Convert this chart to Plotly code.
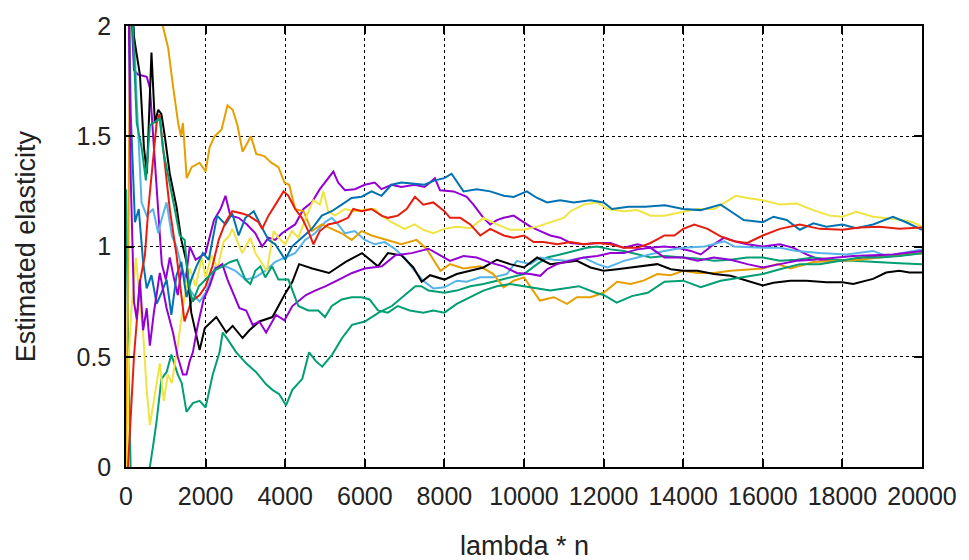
import plotly.graph_objects as go

# ---------------- data ----------------
purple_a_x = [30, 200, 300, 520, 600, 700, 800, 900, 1000, 1100, 1200, 1300, 1400, 1500, 1600, 1750, 2000, 2210, 2375, 2500, 2620, 2830, 3040, 3250, 3420, 3580, 3750, 3920, 4080, 4250, 4460, 4670, 4870, 5080, 5210, 5330, 5500, 5750, 6000, 6250, 6420, 6670, 6920, 7250, 7500, 7640, 7760, 7890, 8230, 8560, 8730, 8980, 9150, 9320, 9490, 9740, 10000, 10160, 10410, 10660, 10910, 11170, 11500, 11840, 12170, 12510, 12850, 13180, 13520, 13860, 14190, 14440, 14770, 15030, 15360, 15610, 16000, 16430, 16770, 17100, 17430, 17770, 18100, 18510, 18930, 19430, 20000]
purple_a_y = [2.5, 1.8, 1.78, 1.77, 1.72, 1.45, 1.15, 0.92, 0.85, 0.95, 0.86, 0.78, 0.9, 0.85, 1.0, 0.94, 0.97, 1.12, 1.17, 1.23, 1.14, 1.13, 1.10, 1.06, 1.0, 1.04, 1.03, 1.06, 1.08, 1.10, 1.17, 1.20, 1.26, 1.31, 1.34, 1.29, 1.255, 1.26, 1.28, 1.29, 1.26, 1.28, 1.27, 1.28, 1.27, 1.29, 1.31, 1.255, 1.25, 1.225, 1.19, 1.13, 1.10, 1.12, 1.13, 1.14, 1.11, 1.09, 1.07, 1.05, 1.04, 1.016, 1.01, 1.016, 1.016, 0.994, 1.01, 0.994, 1.0, 0.994, 0.98, 0.964, 1.01, 1.04, 1.02, 1.01, 1.0, 1.01, 0.994, 0.964, 0.94, 0.935, 0.937, 0.95, 0.957, 0.96, 0.97]

green_a_x = [0, 60, 150, 300, 450, 600, 700, 770, 890, 1020, 1140, 1300, 1400, 1520, 1680, 1850, 2000, 2180, 2350, 2430, 2550, 2770, 3020, 3270, 3520, 3680, 3850, 4020, 4180, 4430, 4600, 4770, 4930, 5180, 5430, 5680, 6000, 6350, 6680, 6930, 7270, 7420, 7600, 8000, 8310, 8650, 8980, 9320, 9650, 10000, 10330, 10580, 10910, 11250, 11580, 11840, 12170, 12510, 12850, 13180, 13530, 14000, 14400, 14770, 15190, 15610, 16000, 16430, 16850, 17270, 17770, 18270, 18930, 19430, 20000]
green_a_y = [1.26, 0.5, -0.3, -0.5, -0.3, 0.0, 0.12, 0.21, 0.40, 0.43, 0.51, 0.42, 0.38, 0.25, 0.29, 0.30, 0.27, 0.42, 0.52, 0.61, 0.58, 0.52, 0.47, 0.43, 0.375, 0.35, 0.33, 0.28, 0.35, 0.40, 0.52, 0.48, 0.455, 0.51, 0.585, 0.645, 0.66, 0.70, 0.73, 0.77, 0.82, 0.82, 0.80, 0.79, 0.80, 0.82, 0.83, 0.845, 0.86, 0.875, 0.92, 0.95, 0.964, 0.98, 0.994, 1.0, 0.987, 0.98, 0.964, 0.95, 0.957, 0.95, 0.945, 0.935, 0.94, 0.95, 0.95, 0.935, 0.94, 0.95, 0.94, 0.935, 0.927, 0.924, 0.92]

skyblue_x = [100, 150, 270, 390, 520, 680, 810, 890, 1020, 1150, 1270, 1400, 1550, 1700, 1850, 2000, 2250, 2500, 2750, 3000, 3250, 3500, 3750, 4000, 4250, 4500, 4750, 5000, 5170, 5330, 5500, 5750, 6000, 6250, 6500, 6750, 7000, 7250, 7470, 7720, 8000, 8310, 8560, 8900, 9230, 9570, 9820, 10160, 10410, 10750, 11080, 11500, 11840, 12100, 12510, 12850, 13180, 13520, 14000, 14540, 15030, 15280, 16000, 16430, 16850, 17430, 18100, 18770, 19100, 19520, 20000]
skyblue_y = [2.5, 2.2, 1.66, 1.2, 1.14, 1.17, 1.06, 1.12, 1.2, 1.05, 1.0, 0.9, 0.82, 0.78, 0.75, 0.79, 0.91, 0.91, 0.89, 0.85, 0.86, 0.89, 0.93, 0.95, 0.97, 1.03, 1.06, 1.11, 1.13, 1.10, 1.06, 1.07, 1.03, 1.01, 1.02, 0.99, 0.95, 0.89, 0.845, 0.81, 0.815, 0.845, 0.84, 0.86, 0.86, 0.875, 0.935, 0.92, 0.95, 0.94, 0.935, 0.95, 0.92, 0.905, 0.935, 0.95, 0.964, 0.98, 0.994, 1.0, 1.024, 1.0, 0.994, 0.994, 0.98, 0.97, 0.964, 0.98, 0.957, 0.97, 0.986]

orange_x = [0, 60, 120, 700, 925, 1060, 1180, 1310, 1380, 1430, 1525, 1650, 1850, 2000, 2100, 2225, 2400, 2550, 2680, 2800, 2930, 3140, 3270, 3475, 3650, 3830, 3980, 4100, 4250, 4460, 4670, 4920, 5170, 5420, 5670, 5920, 6170, 6580, 6920, 7300, 7550, 7900, 8140, 8480, 8900, 9230, 9490, 9740, 10000, 10400, 10750, 11080, 11330, 11670, 12000, 12340, 12680, 13000, 13350, 13690, 14000, 14360, 14770, 15190, 15540, 16000, 16370, 16700, 17270, 17930, 18430, 18930, 19430, 20000]
orange_y = [0.0, 1.0, 2.6, 2.3, 2.0, 1.9, 1.73, 1.56, 1.50, 1.56, 1.31, 1.36, 1.38, 1.34, 1.45, 1.50, 1.53, 1.64, 1.62, 1.55, 1.43, 1.50, 1.42, 1.41, 1.38, 1.36, 1.29, 1.28, 1.17, 1.16, 1.07, 1.10, 1.08, 1.06, 1.03, 1.07, 1.05, 1.03, 1.01, 1.03, 0.99, 0.89, 0.92, 0.90, 0.91, 0.875, 0.815, 0.845, 0.86, 0.755, 0.77, 0.74, 0.77, 0.77, 0.79, 0.84, 0.83, 0.845, 0.875, 0.87, 0.89, 0.88, 0.88, 0.89, 0.895, 0.90, 0.92, 0.90, 0.93, 0.935, 0.94, 0.95, 0.96, 0.97]

yellow_x = [30, 70, 130, 250, 350, 430, 520, 600, 700, 850, 950, 1050, 1150, 1300, 1450, 1600, 1750, 1900, 2000, 2150, 2300, 2450, 2600, 2670, 2920, 3125, 3250, 3540, 3710, 3830, 4000, 4170, 4330, 4540, 4710, 4870, 4960, 5080, 5250, 5500, 5750, 6080, 6250, 6420, 6670, 7000, 7250, 7470, 7720, 8000, 8310, 8650, 8980, 9320, 9650, 10000, 10330, 10660, 11000, 11170, 11500, 11840, 12100, 12510, 12850, 13180, 13530, 14000, 14360, 14780, 15320, 15610, 16000, 16430, 16850, 17270, 17680, 18000, 18350, 18770, 19100, 19520, 19770, 20000]
yellow_y = [0.0, 0.5, 0.7, 0.95, 0.75, 0.61, 0.35, 0.19, 0.30, 0.47, 0.30, 0.42, 0.38, 0.55, 0.75, 0.90, 0.82, 0.95, 0.86, 0.96, 0.90, 1.02, 1.05, 1.08, 0.97, 1.04, 0.97, 0.89, 1.07, 1.04, 1.01, 1.07, 1.04, 1.14, 1.21, 1.19, 1.25, 1.16, 1.14, 1.17, 1.16, 1.17, 1.17, 1.14, 1.11, 1.08, 1.10, 1.076, 1.06, 1.08, 1.09, 1.083, 1.13, 1.10, 1.076, 1.076, 1.09, 1.11, 1.13, 1.16, 1.19, 1.20, 1.17, 1.16, 1.165, 1.14, 1.14, 1.158, 1.17, 1.17, 1.23, 1.22, 1.21, 1.19, 1.195, 1.165, 1.14, 1.135, 1.157, 1.135, 1.128, 1.12, 1.11, 1.09]

blue_x = [40, 120, 225, 320, 430, 520, 640, 770, 890, 1020, 1140, 1270, 1390, 1520, 1640, 1770, 1930, 2080, 2290, 2500, 2670, 2830, 3000, 3210, 3375, 3580, 3750, 4000, 4170, 4420, 4670, 4920, 5170, 5420, 5670, 5920, 6170, 6420, 6670, 6920, 7250, 7500, 7760, 8000, 8180, 8480, 8810, 9150, 9490, 9740, 10070, 10330, 10580, 10910, 11250, 11670, 12000, 12210, 12625, 13040, 13540, 14000, 14440, 14940, 15190, 15520, 16000, 16270, 16600, 16930, 17270, 17600, 18000, 18350, 18770, 19270, 19600, 20000]
blue_y = [2.5, 1.6, 1.11, 1.17, 0.93, 0.81, 0.87, 0.74, 0.79, 0.85, 0.69, 0.87, 0.93, 0.77, 0.85, 0.91, 0.97, 0.94, 1.14, 1.10, 1.15, 1.05, 1.13, 1.16, 1.10, 1.03, 1.01, 0.94, 1.00, 1.04, 1.08, 1.14, 1.16, 1.19, 1.22, 1.226, 1.25, 1.23, 1.28, 1.29, 1.285, 1.28, 1.30, 1.31, 1.33, 1.25, 1.26, 1.25, 1.23, 1.225, 1.25, 1.22, 1.20, 1.21, 1.20, 1.21, 1.20, 1.17, 1.18, 1.18, 1.187, 1.17, 1.165, 1.19, 1.16, 1.12, 1.11, 1.135, 1.12, 1.076, 1.105, 1.09, 1.10, 1.083, 1.10, 1.135, 1.11, 1.076]

red_x = [50, 200, 350, 475, 560, 690, 770, 840, 900, 1000, 1100, 1270, 1470, 1640, 1850, 2000, 2170, 2330, 2500, 2670, 2920, 3080, 3330, 3420, 3580, 3790, 3960, 4080, 4250, 4420, 4580, 4710, 4870, 5080, 5330, 5580, 5710, 5920, 6170, 6420, 6580, 6830, 7050, 7260, 7470, 7720, 8000, 8140, 8400, 8650, 8900, 9150, 9490, 9740, 10000, 10240, 10490, 10830, 11170, 11500, 11840, 12170, 12510, 12850, 13180, 13530, 13780, 14000, 14280, 14610, 14940, 15280, 15610, 16000, 16430, 16930, 17430, 18000, 18430, 18930, 19430, 20000]
red_y = [0.0, 0.5, 0.84, 0.96, 1.17, 1.41, 1.56, 1.60, 1.5, 1.35, 1.17, 0.96, 0.66, 0.75, 0.78, 0.82, 0.91, 1.03, 1.11, 1.16, 1.15, 1.14, 1.11, 1.08, 1.14, 1.20, 1.25, 1.23, 1.17, 1.13, 1.07, 1.01, 1.07, 1.10, 1.11, 1.13, 1.17, 1.16, 1.17, 1.14, 1.13, 1.14, 1.17, 1.225, 1.19, 1.20, 1.16, 1.13, 1.13, 1.10, 1.05, 1.08, 1.05, 1.04, 1.05, 1.02, 1.02, 1.01, 1.02, 1.01, 1.016, 1.01, 0.994, 0.994, 1.016, 1.05, 1.05, 1.08, 1.10, 1.08, 1.046, 1.024, 1.016, 1.05, 1.08, 1.10, 1.08, 1.076, 1.086, 1.09, 1.08, 1.086]

black_x = [50, 200, 350, 450, 525, 640, 725, 810, 890, 975, 1100, 1270, 1390, 1520, 1640, 1770, 1850, 1980, 2270, 2520, 2680, 2930, 3100, 3350, 3680, 3980, 4180, 4350, 4680, 5100, 5520, 5930, 6330, 6580, 6920, 7220, 7430, 7640, 8000, 8310, 8650, 8980, 9320, 9650, 10000, 10330, 10660, 11000, 11330, 11670, 12000, 12340, 12680, 13010, 13350, 13690, 14000, 14360, 14770, 15190, 15610, 16000, 16270, 16690, 17100, 17600, 18000, 18270, 18770, 19100, 19430, 19680, 20000]
black_y = [2.4, 1.95, 1.78, 1.45, 1.33, 1.88, 1.56, 1.62, 1.60, 1.50, 1.33, 1.18, 1.03, 0.93, 0.70, 0.60, 0.53, 0.63, 0.68, 0.61, 0.64, 0.585, 0.62, 0.66, 0.68, 0.78, 0.84, 0.92, 0.90, 0.88, 0.93, 0.97, 0.91, 0.97, 0.96, 0.905, 0.84, 0.87, 0.85, 0.875, 0.89, 0.905, 0.94, 0.92, 0.905, 0.95, 0.92, 0.927, 0.935, 0.905, 0.89, 0.897, 0.905, 0.912, 0.92, 0.897, 0.89, 0.89, 0.875, 0.867, 0.845, 0.823, 0.836, 0.845, 0.845, 0.838, 0.838, 0.83, 0.853, 0.882, 0.89, 0.882, 0.882]

purple_b_x = [40, 120, 200, 270, 350, 430, 520, 600, 700, 850, 1020, 1180, 1300, 1430, 1520, 1600, 1680, 1800, 1950, 2100, 2250, 2420, 2550, 2680, 2850, 3020, 3180, 3350, 3520, 3770, 3980, 4180, 4520, 4750, 5020, 5350, 5680, 6000, 6430, 6770, 7180, 7600, 7890, 8140, 8480, 8810, 9150, 9490, 9820, 10160, 10410, 10580, 10830, 11170, 11500, 11840, 12170, 12510, 12850, 13180, 13530, 14000, 14360, 14770, 15190, 15610, 16000, 16430, 16850, 17270, 17770, 18270, 18770, 19270, 20000]
purple_b_y = [2.5, 1.3, 0.75, 0.67, 0.85, 0.62, 0.72, 0.55, 0.7, 0.88, 0.72, 0.61, 0.5, 0.42, 0.42, 0.48, 0.52, 0.64, 0.76, 0.82, 0.9, 0.92, 0.85, 0.79, 0.72, 0.71, 0.645, 0.66, 0.61, 0.69, 0.665, 0.73, 0.78, 0.80, 0.82, 0.85, 0.88, 0.90, 0.91, 0.96, 0.97, 0.99, 0.96, 0.935, 0.957, 0.95, 0.927, 0.91, 0.88, 0.875, 0.867, 0.897, 0.92, 0.935, 0.95, 0.957, 0.97, 0.97, 0.987, 0.994, 0.95, 0.95, 0.935, 0.95, 0.94, 0.92, 0.905, 0.92, 0.935, 0.94, 0.95, 0.957, 0.96, 0.964, 0.98]

green_b_x = [60, 270, 390, 500, 600, 850, 930, 1100, 1225, 1350, 1475, 1520, 1600, 1680, 1830, 2000, 2210, 2420, 2620, 2790, 3000, 3125, 3250, 3375, 3500, 3670, 3830, 4080, 4250, 4330, 4580, 4830, 5000, 5170, 5420, 5670, 5920, 6120, 6330, 6580, 6830, 7130, 7470, 7720, 8000, 8310, 8650, 8980, 9320, 9650, 10000, 10330, 10660, 11000, 11375, 11800, 12000, 12330, 12710, 13110, 13530, 14000, 14440, 14940, 15440, 16000, 16430, 16930, 17430, 17930, 18430, 18930, 19430, 20000]
green_b_y = [2.5, 1.56, 1.45, 1.3, 1.55, 1.58, 1.44, 1.29, 1.17, 1.05, 1.03, 0.93, 0.8, 0.75, 0.82, 0.85, 0.89, 0.91, 0.93, 0.94, 0.85, 0.83, 0.89, 0.91, 0.86, 0.91, 0.85, 0.85, 0.77, 0.73, 0.71, 0.71, 0.68, 0.73, 0.76, 0.77, 0.77, 0.76, 0.71, 0.70, 0.73, 0.71, 0.70, 0.71, 0.70, 0.74, 0.77, 0.80, 0.82, 0.83, 0.82, 0.81, 0.80, 0.81, 0.82, 0.79, 0.78, 0.745, 0.775, 0.79, 0.84, 0.845, 0.815, 0.845, 0.86, 0.875, 0.897, 0.92, 0.92, 0.935, 0.95, 0.95, 0.957, 0.97]

x_ticks = [0, 2000, 4000, 6000, 8000, 10000, 12000, 14000, 16000, 18000, 20000]
y_ticks = [0, 0.5, 1, 1.5, 2]
x_title = "lambda * n"
y_title = "Estimated elasticity"

series = [
    (purple_a_x, purple_a_y, "#9400d3"),
    (green_a_x, green_a_y, "#009e73"),
    (skyblue_x, skyblue_y, "#56b4e9"),
    (orange_x, orange_y, "#e69f00"),
    (yellow_x, yellow_y, "#f0e442"),
    (blue_x, blue_y, "#0072b2"),
    (red_x, red_y, "#e51e10"),
    (black_x, black_y, "#000000"),
    (purple_b_x, purple_b_y, "#9400d3"),
    (green_b_x, green_b_y, "#009e73"),
]

FONT = "Liberation Sans, Arial, sans-serif"

fig = go.Figure()
for xs, ys, col in series:
    fig.add_trace(go.Scatter(x=xs, y=ys, mode="lines",
                             line=dict(color=col, width=2),
                             hoverinfo="skip", showlegend=False))

axis_common = dict(
    showline=True, linecolor="black", linewidth=1.5, mirror="allticks",
    ticks="inside", ticklen=8, tickwidth=1.5, tickcolor="black",
    showgrid=True, gridcolor="black", gridwidth=1.3, griddash="dot",
    zeroline=False, tickfont=dict(family=FONT, size=25, color="#222"),
)

fig.update_xaxes(range=[0, 20000], tickvals=x_ticks, tickformat="d",
                 ticklabelstandoff=6, **axis_common)
fig.update_yaxes(range=[0, 2], tickvals=y_ticks, ticklabelstandoff=8,
                 **axis_common)

fig.update_layout(
    width=969, height=560,
    margin=dict(l=126, r=44, t=21, b=93),
    paper_bgcolor="white", plot_bgcolor="white",
    annotations=[
        dict(text=x_title, xref="paper", yref="paper", x=0.5, y=-0.18,
             xanchor="center", yanchor="middle", showarrow=False,
             font=dict(family=FONT, size=27, color="#222")),
        dict(text=y_title, xref="paper", yref="paper", x=-0.126, y=0.50,
             xanchor="center", yanchor="middle", showarrow=False, textangle=-90,
             font=dict(family=FONT, size=27, color="#222")),
    ],
)

fig.write_html("out.html")
